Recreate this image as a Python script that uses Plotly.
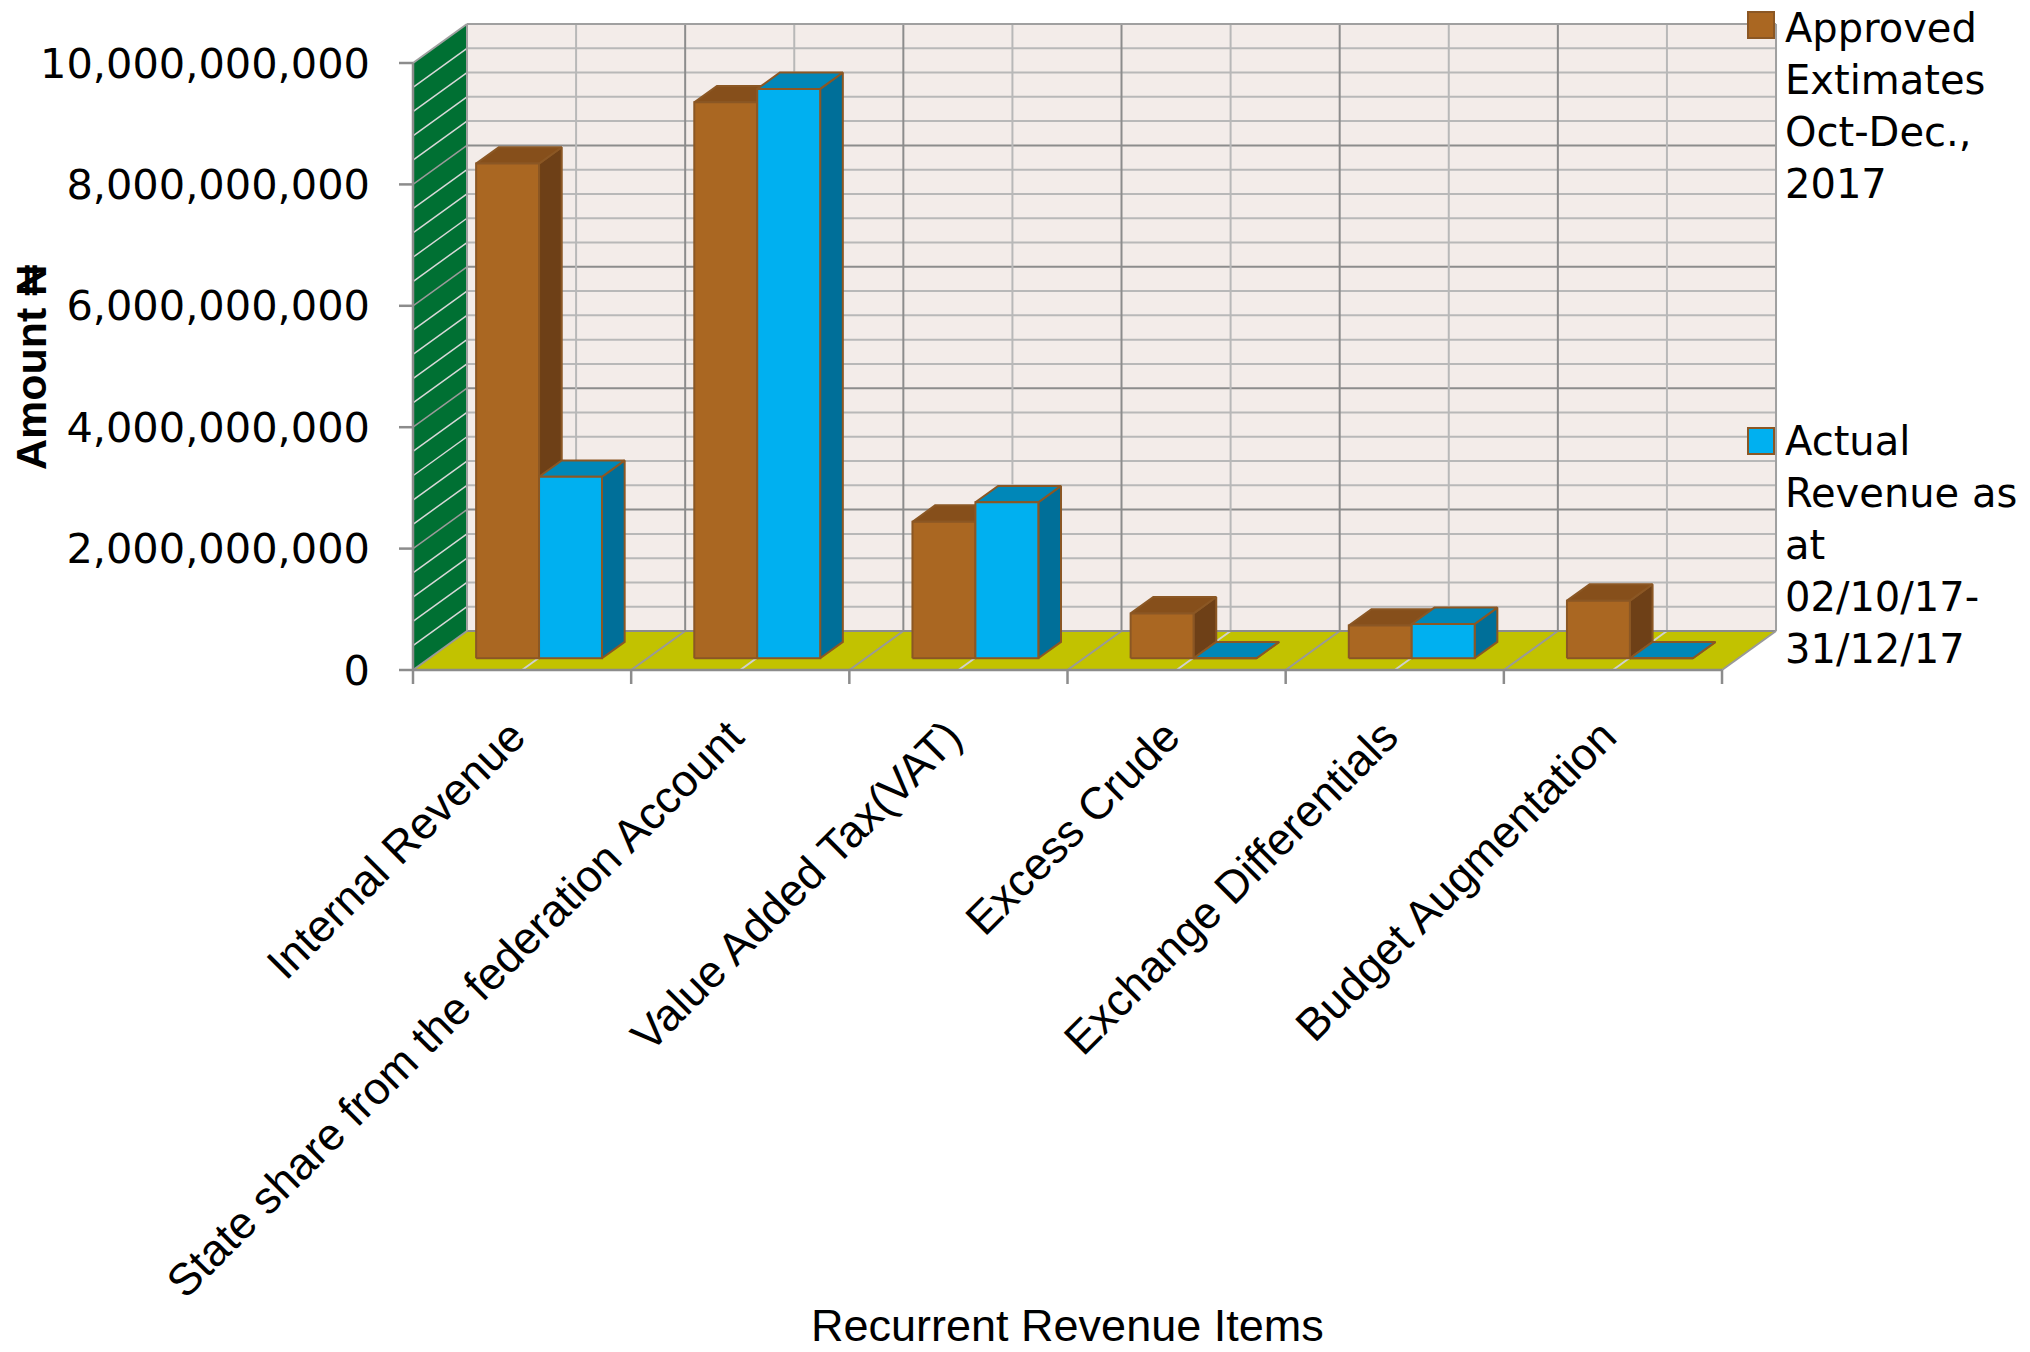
import plotly.graph_objects as go

# ---------------- data ----------------
categories = ["Internal Revenue", "State share from the federation Account",
              "Value Added Tax(VAT)", "Excess Crude", "Exchange Differentials",
              "Budget Augmentation"]
approved = [8.15e9, 9.16e9, 2.25e9, 0.74e9, 0.54e9, 0.95e9]
actual = [2.99e9, 9.38e9, 2.57e9, 0.0, 0.565e9, 0.0]
series_names = ["Approved<br>Extimates<br>Oct-Dec.,<br>2017",
                "Actual<br>Revenue as<br>at<br>02/10/17-<br>31/12/17"]
y_ticks = [0, 2e9, 4e9, 6e9, 8e9, 1e10]
y_ticktext = [f"{v:,.0f}" for v in y_ticks]
x_title = "Recurrent Revenue Items"
y_title = "Amount ₦"

# ---------------- geometry (pixel calibration, figure px) ----------------
W, H = 2030, 1352
X0PX, Y0PX = 413, 670            # pixel position of x=0 / y=0 on the front plane
PPC = 218.17                     # px per category
PPV = 60.7 / 1e9                 # px per value unit
PL, PR, PT, PB = 399, 1782, 18, 686  # plot area px
DX = 54 / PPC                    # depth offset in category units
DY = 39 / PPV                    # depth offset in value units
Z0, Z1 = 0.30, 0.72              # bar depth span
GAP, BW = 0.215, 0.2885          # bar gap / width (category units)
YMAX = 1e10
MINOR = 0.4e9
ncat = len(categories)

x_range = [(PL - X0PX) / PPC, (PR - X0PX) / PPC]
y_range = [(Y0PX - PB) / PPV, (Y0PX - PT) / PPV]


def px2paper_x(px):
    return (px - PL) / (PR - PL)


def px2paper_y(py):
    return (PB - py) / (PB - PT)


# colours
BACK = "#F3ECE9"
SIDE_WALL = "#007033"
FLOOR = "#C2C200"
GRID_MAJ = "#8C8C8C"
GRID_MIN = "#B8B8B8"
EDGE = "#8B5724"
APP = dict(front="#AA6722", top="#864F1B", side="#6E4017")
ACT = dict(front="#00B0F0", top="#0087B8", side="#006F99")

shapes = []


def line(x0, y0, x1, y1, color, width=2):
    shapes.append(dict(type="line", xref="x", yref="y", x0=x0, y0=y0, x1=x1, y1=y1,
                       line=dict(color=color, width=width), layer="below"))


def poly(pts, fill):
    path = "M " + " L ".join(f"{x},{y}" for x, y in pts) + " Z"
    shapes.append(dict(type="path", xref="x", yref="y", path=path,
                       fillcolor=fill, line=dict(width=0), layer="below"))


# walls and floor
poly([(DX, DY), (ncat + DX, DY), (ncat + DX, YMAX + DY), (DX, YMAX + DY)], BACK)
poly([(0, 0), (DX, DY), (DX, YMAX + DY), (0, YMAX)], SIDE_WALL)
poly([(0, 0), (ncat, 0), (ncat + DX, DY), (DX, DY)], FLOOR)

nsteps = int(round(YMAX / MINOR))
for j in range(1, nsteps):
    v = j * MINOR
    major = (j % 5 == 0)
    line(DX, v + DY, ncat + DX, v + DY, GRID_MAJ if major else GRID_MIN, 2)
    line(0, v, DX, v + DY, "#9A9A9A" if major else "#D8D8D8", 1.5)
for k in range(ncat):
    c = k + 0.5
    line(c + DX, DY, c + DX, YMAX + DY, GRID_MIN, 2)
    line(c, 0, c + DX, DY, "#D0D0D0", 2)
for k in range(1, ncat):
    line(k + DX, DY, k + DX, YMAX + DY, GRID_MAJ, 2)
    line(k, 0, k + DX, DY, "#999999", 2)
# outline edges
line(DX, DY, ncat + DX, DY, GRID_MAJ, 2)
line(DX, YMAX + DY, ncat + DX, YMAX + DY, "#A0A0A0", 2)
line(ncat + DX, DY, ncat + DX, YMAX + DY, "#A0A0A0", 2)
line(DX, DY, DX, YMAX + DY, "#A0A0A0", 2)
line(0, YMAX, DX, YMAX + DY, "#A0A0A0", 2)
line(ncat, 0, ncat + DX, DY, "#999999", 2)
line(0, 0, DX, DY, "#999999", 2)
# axes lines and ticks
line(0, 0, 0, YMAX, "#8C8C8C", 2.5)
line(0, 0, ncat, 0, "#8C8C8C", 2.5)
for v in y_ticks:
    line(-14 / PPC, v, 0, v, "#8C8C8C", 2.5)
for k in range(ncat + 1):
    line(k, 0, k, -14 / PPV, "#8C8C8C", 2.5)

# legend swatches (drawn as shapes in paper coordinates)
LEG_SW = [(1748, 12), (1748, 428)]
for (sx, sy), col in zip(LEG_SW, (APP["front"], ACT["front"])):
    shapes.append(dict(type="rect", xref="paper", yref="paper",
                       x0=px2paper_x(sx), x1=px2paper_x(sx + 26),
                       y0=px2paper_y(sy + 26), y1=px2paper_y(sy),
                       fillcolor=col, line=dict(color=EDGE, width=2), layer="above"))

# ---------------- bars as projected faces ----------------
fig = go.Figure()


def faces(values, s):
    side_x, side_y, top_x, top_y, fr_x, fr_y = [], [], [], [], [], []
    for i, h in enumerate(values):
        xl = i + GAP + s * BW
        xr = xl + BW
        a0x, a0y = Z0 * DX, Z0 * DY
        a1x, a1y = Z1 * DX, Z1 * DY
        side = [(xr + a0x, a0y), (xr + a1x, a1y), (xr + a1x, h + a1y), (xr + a0x, h + a0y), (xr + a0x, a0y)]
        top = [(xl + a0x, h + a0y), (xr + a0x, h + a0y), (xr + a1x, h + a1y), (xl + a1x, h + a1y), (xl + a0x, h + a0y)]
        front = [(xl + a0x, a0y), (xr + a0x, a0y), (xr + a0x, h + a0y), (xl + a0x, h + a0y), (xl + a0x, a0y)]
        for pts, xs, ys in ((side, side_x, side_y), (top, top_x, top_y), (front, fr_x, fr_y)):
            xs.extend([p[0] for p in pts] + [None])
            ys.extend([p[1] for p in pts] + [None])
    return (side_x, side_y), (top_x, top_y), (fr_x, fr_y)


for s, (vals, col) in enumerate(((approved, APP), (actual, ACT))):
    (sx, sy), (tx, ty), (fx, fy) = faces(vals, s)
    for xs, ys, fc in ((sx, sy, col["side"]), (tx, ty, col["top"]), (fx, fy, col["front"])):
        fig.add_trace(go.Scatter(x=xs, y=ys, mode="lines", fill="toself", fillcolor=fc,
                                 line=dict(color=EDGE, width=2), connectgaps=False,
                                 showlegend=False, hoverinfo="skip"))

# legend entries (swatch drawn by shapes above)
fig.add_trace(go.Scatter(x=[None], y=[None], mode="markers", name=series_names[0],
                         marker=dict(symbol="square", size=16, color="rgba(0,0,0,0)",
                                     line=dict(width=0)), legend="legend"))
fig.add_trace(go.Scatter(x=[None], y=[None], mode="markers", name=series_names[1],
                         marker=dict(symbol="square", size=16, color="rgba(0,0,0,0)",
                                     line=dict(width=0)), legend="legend2"))

legend_common = dict(xanchor="left", yanchor="top", bgcolor="rgba(0,0,0,0)",
                     font=dict(family="DejaVu Sans", size=40, color="black"),
                     valign="top", borderwidth=0)

fig.update_layout(
    width=W, height=H,
    margin=dict(l=PL, r=W - PR, t=PT, b=H - PB, autoexpand=False),
    paper_bgcolor="white", plot_bgcolor="white",
    shapes=shapes,
    xaxis=dict(range=x_range, tickmode="array", tickvals=[i + 0.5 for i in range(ncat)],
               ticktext=categories, tickangle=-45, ticks="", showgrid=False,
               zeroline=False, showline=False, fixedrange=True,
               tickfont=dict(family="Liberation Sans", size=45, color="black"),
               ticklabelstandoff=14, ticklabelshift=-10),
    yaxis=dict(range=y_range, tickmode="array", tickvals=y_ticks, ticktext=y_ticktext,
               ticks="", showgrid=False, zeroline=False, showline=False, fixedrange=True,
               tickfont=dict(family="DejaVu Sans", size=41.5, color="black"),
               ticklabelstandoff=28),
    legend=dict(x=px2paper_x(1745), y=px2paper_y(-6), **legend_common),
    legend2=dict(x=px2paper_x(1745), y=px2paper_y(407), **legend_common),
    annotations=[
        dict(text=x_title, xref="paper", yref="paper", x=px2paper_x(1067),
             y=px2paper_y(1325), xanchor="center", yanchor="middle", showarrow=False,
             font=dict(family="Liberation Sans", size=45, color="black")),
        dict(text="<b>" + y_title + "</b>", xref="paper", yref="paper", x=px2paper_x(31),
             y=px2paper_y(368), xanchor="center", yanchor="middle", showarrow=False,
             textangle=-90,
             font=dict(family="Liberation Sans Narrow, Liberation Sans", size=43, color="black")),
    ],
)

fig.write_html("out.html", config={"displayModeBar": False},
               post_script="document.body.style.margin='0px';")
